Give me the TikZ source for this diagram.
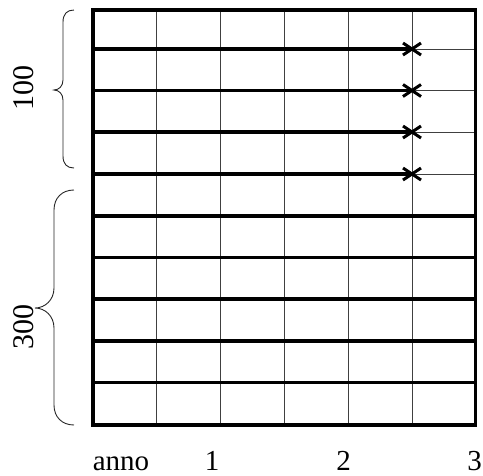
\documentclass[tikz,border=0pt]{standalone}
\usepackage{fontspec}
\setmainfont{Liberation Serif}
\begin{document}
\begin{tikzpicture}[x=1pt,y=-1pt,
  thickline/.style={line width=3.2pt},
  thinline/.style={line width=1pt, black!75},
  crossmark/.style={line width=3pt},
  bracepath/.style={line width=0.9pt, black!85},
  axislabel/.style={font=\fontsize{29}{29}\selectfont, inner sep=0pt, anchor=base},
  sidelabel/.style={font=\fontsize{30}{30}\selectfont, inner sep=0pt, rotate=90}]
\useasboundingbox (0,0) rectangle (483,475);
% thin vertical lines
\foreach \x in {156.8,220.6,284.4,348.2,412} \draw[thinline] (\x,10) -- (\x,425);
% upper lines: thick to the crosses, thin beyond
\foreach \y in {49,90.5,132,174} {
  \draw[thickline] (93,\y) -- (412,\y);
  \draw[thinline] (412,\y) -- (475.8,\y);
  \draw[crossmark] (403,\y-6) -- (421,\y+6);
  \draw[crossmark] (403,\y+6) -- (421,\y-6);
}
% lower lines: thick full width
\foreach \y in {216,257.5,299,341,382.5} \draw[thickline] (93,\y) -- (475.8,\y);
% frame
\draw[thickline] (93,10) rectangle (475.8,425);
% braces
\draw[bracepath] (74,10) .. controls (67,10) and (63,14) .. (63,22) -- (63,80)
  .. controls (63,86) and (59,90) .. (54,90) .. controls (59,90) and (63,94) .. (63,100)
  -- (63,156) .. controls (63,164) and (67,168) .. (74,168);
\draw[bracepath] (74,190) .. controls (62,190) and (54,198) .. (54,210) -- (54,288)
  .. controls (54,300) and (45,308) .. (35,308) .. controls (45,308) and (54,316) .. (54,328)
  -- (54,405) .. controls (54,417) and (62,425) .. (74,425);
% labels
\node[sidelabel] (l100) at (24,88) {100};
\node[sidelabel] (l300) at (24,327) {300};
\node[axislabel] (anno) at (121,470) {anno};
\node[axislabel] (t1) at (212,470) {1};
\node[axislabel] (t2) at (343.5,470) {2};
\node[axislabel] (t3) at (474.5,470) {3};
\end{tikzpicture}
\end{document}
